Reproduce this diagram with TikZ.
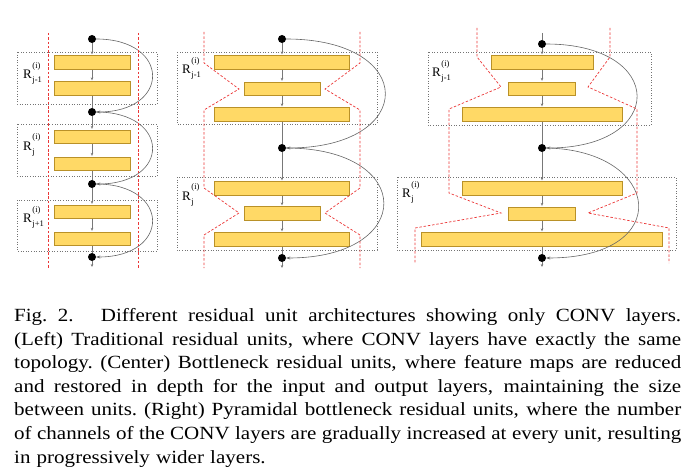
\documentclass[tikz,border=0pt]{standalone}
\usepackage{fontspec}
\setmainfont{Liberation Serif}
\newfontfamily\capfont[FakeStretch=1.13]{Liberation Serif}
\usetikzlibrary{arrows.meta}
\definecolor{barfill}{RGB}{255,217,102}
\definecolor{barline}{RGB}{185,145,40}
\definecolor{redl}{RGB}{235,55,55}
\definecolor{flowc}{RGB}{120,120,120}
\newcommand{\Rlab}[1]{R\kern0.6pt\rlap{\raisebox{-4pt}{\fontsize{8.5}{9}\selectfont #1}}\raisebox{10pt}{\fontsize{8.5}{9}\selectfont (i)}}
\newcommand{\jline}[1]{\hbox to 667pt{\spaceskip=0.25em plus 1fil minus 0.1em\xspaceskip=\spaceskip\relax #1}}
\begin{document}
\begin{tikzpicture}[x=1pt,y=-1pt,
  bar/.style={draw=barline, fill=barfill, line width=0.8pt, minimum height=13.5pt, inner sep=0pt},
  unitbox/.style={draw=black!55, dotted, line width=0.6pt},
  redcut/.style={draw=redl, dash pattern=on 2.5pt off 1.8pt, line width=0.7pt},
  flow/.style={draw=flowc, line width=0.5pt, shorten >=1pt, -{Stealth[length=3pt,width=2.6pt]}},
  plain/.style={draw=flowc, line width=0.5pt},
  junc/.style={circle, fill=black, inner sep=0pt, minimum size=8pt},
  skipc/.style={draw=black!60, line width=0.6pt, -{Stealth[length=4pt,width=3pt]}},
  lab/.style={anchor=base west, inner sep=0pt, font=\fontsize{13}{13}\selectfont}
]
\useasboundingbox (0,0) rectangle (695,473);

% ---------------- unit boxes
\draw[unitbox] (17,52) rectangle (157,104);
\draw[unitbox] (17,124) rectangle (157,176);
\draw[unitbox] (17,200) rectangle (157,251);
\draw[unitbox] (177,52) rectangle (377,124);
\draw[unitbox] (177,177) rectangle (377,250);
\draw[unitbox] (428,52) rectangle (651,125);
\draw[unitbox] (397,177) rectangle (676,250);

% ---------------- left panel
\node[junc] (Ld0) at (92,39) {};
\node[bar, minimum width=76pt] (La1) at (92,62.5) {};
\node[bar, minimum width=76pt] (La2) at (92,88.5) {};
\node[junc] (Ld1) at (92,112) {};
\node[bar, minimum width=76pt] (Lb1) at (92,137) {};
\node[bar, minimum width=76pt] (Lb2) at (92,164) {};
\node[junc] (Ld2) at (92,184) {};
\node[bar, minimum width=76pt] (Lc1) at (92,212) {};
\node[bar, minimum width=76pt] (Lc2) at (92,239) {};
\node[junc] (Ld3) at (92,257) {};
\coordinate (Lend) at (92,268);
\draw[flow] (Ld0) -- (La1);
\draw[flow] (La1) -- (La2);
\draw[plain] (La2) -- (Ld1);
\draw[flow] (Ld1) -- (Lb1);
\draw[flow] (Lb1) -- (Lb2);
\draw[plain] (Lb2) -- (Ld2);
\draw[flow] (Ld2) -- (Lc1);
\draw[flow] (Lc1) -- (Lc2);
\draw[plain] (Lc2) -- (Ld3);
\draw[flow] (Ld3) -- (Lend);
\draw[skipc] (Ld0.east) .. controls (171,39) and (171,112) .. (Ld1.east);
\draw[skipc] (Ld1.east) .. controls (171,112) and (171,184) .. (Ld2.east);
\draw[skipc] (Ld2.east) .. controls (171,184) and (171,257) .. (Ld3.east);
\node[lab] (Llab1) at (23,79) {\Rlab{j-1}};
\node[lab] (Llab2) at (23,150) {\Rlab{j}};
\node[lab] (Llab3) at (23,222) {\Rlab{j+1}};

% ---------------- center panel
\node[junc] (Cd0) at (282,39) {};
\node[bar, minimum width=135pt] (Ca1) at (282,62.5) {};
\node[bar, minimum width=76pt] (Ca2) at (282,89) {};
\node[bar, minimum width=135pt] (Ca3) at (282,114.5) {};
\node[junc] (Cd1) at (282,148) {};
\node[bar, minimum width=135pt] (Cb1) at (282,188.5) {};
\node[bar, minimum width=76pt] (Cb2) at (282,213.5) {};
\node[bar, minimum width=135pt] (Cb3) at (282,239.5) {};
\node[junc] (Cd2) at (282,258) {};
\coordinate (Cend) at (282,269);
\draw[flow] (Cd0) -- (Ca1);
\draw[flow] (Ca1) -- (Ca2);
\draw[flow] (Ca2) -- (Ca3);
\draw[plain] (Ca3) -- (Cd1);
\draw[flow] (Cd1) -- (Cb1);
\draw[flow] (Cb1) -- (Cb2);
\draw[flow] (Cb2) -- (Cb3);
\draw[plain] (Cb3) -- (Cd2);
\draw[flow] (Cd2) -- (Cend);
\draw[skipc] (Cd0.east) .. controls (418,39) and (418,148) .. (Cd1.east);
\draw[skipc] (Cd1.east) .. controls (416,148) and (416,258) .. (Cd2.east);
\node[lab] (Clab1) at (182,74) {\Rlab{j-1}};
\node[lab] (Clab2) at (182,200) {\Rlab{j}};

% ---------------- right panel
\coordinate (Rtop) at (542,33);
\node[junc] (Rd0) at (542,44) {};
\node[bar, minimum width=102pt] (Ra1) at (542,62.5) {};
\node[bar, minimum width=67pt] (Ra2) at (542,89) {};
\node[bar, minimum width=160pt] (Ra3) at (542,114.5) {};
\node[junc] (Rd1) at (542,148) {};
\node[bar, minimum width=160pt] (Rb1) at (542,188.5) {};
\node[bar, minimum width=67pt] (Rb2) at (542,214) {};
\node[bar, minimum width=241pt] (Rb3) at (542,239.5) {};
\node[junc] (Rd2) at (542,258) {};
\coordinate (Rend) at (542,268);
\draw[plain] (Rtop) -- (Rd0);
\draw[flow] (Rd0) -- (Ra1);
\draw[flow] (Ra1) -- (Ra2);
\draw[flow] (Ra2) -- (Ra3);
\draw[plain] (Ra3) -- (Rd1);
\draw[flow] (Rd1) -- (Rb1);
\draw[flow] (Rb1) -- (Rb2);
\draw[flow] (Rb2) -- (Rb3);
\draw[plain] (Rb3) -- (Rd2);
\draw[flow] (Rd2) -- (Rend);
\draw[skipc] (Rd0.east) .. controls (667,44) and (667,148) .. (Rd1.east);
\draw[skipc] (Rd1.east) .. controls (662,150) and (676,258) .. (Rd2.east);
\node[lab] (Rlab1) at (432,77) {\Rlab{j-1}};
\node[lab] (Rlab2) at (402,197) {\Rlab{j}};

% ---------------- red dashed outlines (on top)
\draw[redcut] (48,33) -- (48,268);
\draw[redcut] (138.5,33) -- (138.5,268);
\draw[redcut] (204,32) -- (204,63) -- (239,89) -- (204,110) -- (204,188) -- (239,213) -- (204,235) -- (204,268);
\draw[redcut] (360,32) -- (360,63) -- (325,89) -- (360,110) -- (360,188) -- (325,213) -- (360,235) -- (360,268);
\draw[redcut] (477,28) -- (477,57) -- (501,87) -- (449,109) -- (449,193) -- (501,213) -- (415,228) -- (415,263);
\draw[redcut] (610,28) -- (610,57) -- (588,87) -- (637,109) -- (637,193) -- (588,213) -- (669,228) -- (669,263);

% ---------------- caption
\node[anchor=north west, inner sep=0pt, text width=667pt,
      font=\capfont\fontsize{18.6}{23.6}\selectfont] (caption) at (14,308.3)
{\jline{Fig.\ 2.\hspace{0.9em} Different residual unit architectures showing only CONV layers.}
\jline{(Left) Traditional residual units, where CONV layers have exactly the same}
\jline{topology. (Center) Bottleneck residual units, where feature maps are reduced}
\jline{and restored in depth for the input and output layers, maintaining the size}
\jline{between units. (Right) Pyramidal bottleneck residual units, where the number}
\jline{of channels of the CONV layers are gradually increased at every unit, resulting}
\hbox{in progressively wider layers.}};
\end{tikzpicture}
\end{document}
